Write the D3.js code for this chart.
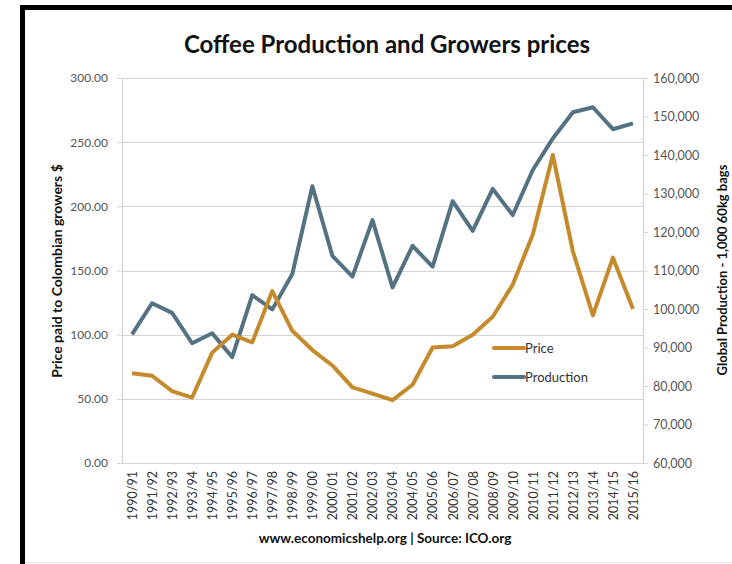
<!DOCTYPE html>
<html><head><meta charset="utf-8">
<script src="https://cdn.jsdelivr.net/npm/d3@7"></script>
<style>
html,body{margin:0;padding:0;background:#fff;}
svg{display:block;font-family:Lato, "Open Sans", sans-serif;}
</style></head>
<body>
<svg id="c" width="732" height="564"></svg>
<script>
const years = ["1990/91","1991/92","1992/93","1993/94","1994/95","1995/96","1996/97","1997/98","1998/99","1999/00","2000/01","2001/02","2002/03","2003/04","2004/05","2005/06","2006/07","2007/08","2008/09","2009/10","2010/11","2011/12","2012/13","2013/14","2014/15","2015/16"];
const price = [70,68,56,51,86,100,94,134,103,88,76,59,54,49,61,90,91,100,114,139,178,240,165,115,160,120];
const production = [93400,101500,99000,91100,93700,87500,103600,99900,109100,131900,113800,108400,123100,105600,116400,111000,128000,120300,131200,124400,136100,144300,151100,152400,146700,148200];
const priceTicks = [0,50,100,150,200,250,300];
const prodTicks = [60000,70000,80000,90000,100000,110000,120000,130000,140000,150000,160000];
const seriesNames = ["Price","Production"];
const colors = {Price:"#c48a2c", Production:"#557282"};

const svg = d3.select("#c");
const L = 122, R = 643, T = 78, B = 463;

// frame
svg.append("rect").attr("x",0).attr("y",0).attr("width",732).attr("height",564).attr("fill","#fff");
svg.append("rect").attr("x",20).attr("y",5).attr("width",712).attr("height",5).attr("fill","#000");
svg.append("rect").attr("x",20).attr("y",5).attr("width",5).attr("height",559).attr("fill","#000");
svg.append("line").attr("x1",25).attr("x2",732).attr("y1",562.5).attr("y2",562.5).attr("stroke","#e4e4e4");

const x = d3.scalePoint().domain(years).range([L,R]).padding(0.5);
const yL = d3.scaleLinear().domain([0,300]).range([B,T]);
const yR = d3.scaleLinear().domain([60000,160000]).range([B,T]);

// gridlines
svg.append("g").selectAll("line").data(priceTicks).join("line")
  .attr("x1",L).attr("x2",R).attr("y1",d=>Math.round(yL(d))+0.5).attr("y2",d=>Math.round(yL(d))+0.5)
  .attr("stroke","#d4d4d4").attr("stroke-width",1.2);

// left axis
const gl = svg.append("g").attr("transform",`translate(${L},0)`)
  .call(d3.axisLeft(yL).tickValues(priceTicks).tickFormat(d3.format(".2f")).tickSize(5).tickPadding(9));
gl.select(".domain").attr("stroke","#d4d4d4").attr("stroke-width",1.2);
gl.selectAll(".tick line").attr("stroke","#d4d4d4");
gl.selectAll("text").attr("fill","#555").style("font-size","12px").style("font-family","Lato, sans-serif");

// right axis
const gr = svg.append("g").attr("transform",`translate(${R},0)`)
  .call(d3.axisRight(yR).tickValues(prodTicks).tickFormat(d3.format(",")).tickSize(5).tickPadding(5));
gr.select(".domain").attr("stroke","#d4d4d4").attr("stroke-width",1.2);
gr.selectAll(".tick line").attr("stroke","#d4d4d4");
gr.selectAll("text").attr("fill","#555").style("font-size","12.5px").style("font-family","Lato, sans-serif");

// x axis labels
const gx = svg.append("g").attr("transform",`translate(0,${B})`)
  .call(d3.axisBottom(x).tickSize(0).tickPadding(0));
gx.select(".domain").remove();
gx.selectAll("text").attr("transform","rotate(-90)").attr("text-anchor","end")
  .attr("x",-8).attr("y",0).attr("dy","0.35em")
  .attr("fill","#333").style("font-size","12.5px").style("font-family","Lato, sans-serif");

// lines
const lineP = d3.line().x((d,i)=>x(years[i])).y(d=>yL(d));
const lineQ = d3.line().x((d,i)=>x(years[i])).y(d=>yR(d));
svg.append("path").datum(production).attr("d",lineQ).attr("fill","none")
  .attr("stroke",colors.Production).attr("stroke-width",4).attr("stroke-linejoin","round");
svg.append("path").datum(price).attr("d",lineP).attr("fill","none")
  .attr("stroke",colors.Price).attr("stroke-width",4).attr("stroke-linejoin","round");

// legend
const leg = svg.append("g").attr("transform","translate(494,348)");
seriesNames.forEach((n,i)=>{
  const g = leg.append("g").attr("transform",`translate(0,${i*29})`);
  g.append("line").attr("x1",0).attr("x2",30).attr("stroke",colors[n]).attr("stroke-width",4).attr("stroke-linecap","round");
  g.append("text").attr("x",31).attr("dy","0.35em").text(n).attr("fill","#333")
    .style("font-size","13px").style("font-family","Lato, sans-serif");
});

// titles
svg.append("text").attr("x",387).attr("y",53).attr("text-anchor","middle")
  .style("font-size","24px").style("font-weight","bold").attr("fill","#111")
  .text("Coffee Production and Growers prices");
svg.append("text").attr("transform","translate(62,271) rotate(-90)").attr("text-anchor","middle")
  .style("font-size","14px").style("font-weight","bold").attr("fill","#111")
  .text("Price paid to Colombian growers $");
svg.append("text").attr("transform","translate(722,270) rotate(-90)").attr("text-anchor","middle")
  .attr("dy","0.35em")
  .style("font-size","13px").style("font-weight","bold").attr("fill","#111")
  .text("Global Production  - 1,000 60kg bags");
svg.append("text").attr("x",385).attr("y",543).attr("text-anchor","middle")
  .style("font-size","13.5px").style("font-weight","bold").attr("fill","#111")
  .text("www.economicshelp.org | Source: ICO.org");
</script>
</body></html>
